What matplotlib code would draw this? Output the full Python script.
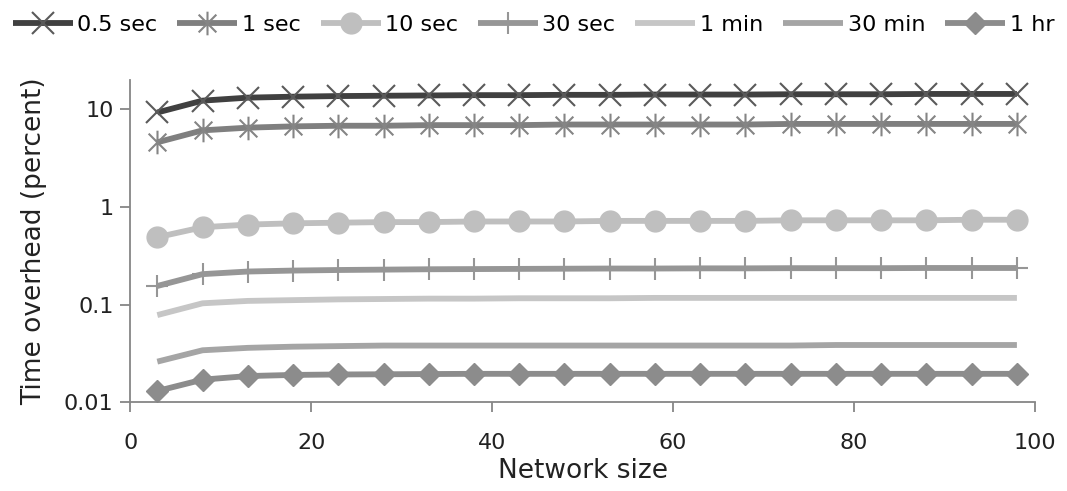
import matplotlib.pyplot as plt
from matplotlib.path import Path
import numpy as np

# network sizes sampled every 5 nodes
sizes = [3, 8, 13, 18, 23, 28, 33, 38, 43, 48, 53, 58, 63, 68, 73, 78, 83, 88, 93, 98]

labels = ['0.5 sec', '1 sec', '10 sec', '30 sec', '1 min', '30 min', '1 hr']

half_sec = [9.3, 12.3, 13.2, 13.5, 13.7, 13.8, 13.9, 14.0, 14.0, 14.1,
            14.1, 14.2, 14.2, 14.2, 14.3, 14.3, 14.3, 14.4, 14.4, 14.4]
one_sec = [4.6, 6.1, 6.5, 6.7, 6.8, 6.8, 6.9, 6.9, 6.9, 7.0,
           7.0, 7.0, 7.0, 7.0, 7.1, 7.1, 7.1, 7.1, 7.1, 7.1]
ten_sec = [0.49, 0.62, 0.66, 0.68, 0.69, 0.70, 0.70, 0.71, 0.71, 0.71,
           0.72, 0.72, 0.72, 0.72, 0.73, 0.73, 0.73, 0.73, 0.74, 0.74]
thirty_sec = [0.155, 0.205, 0.218, 0.223, 0.226, 0.228, 0.230, 0.231, 0.232, 0.233,
              0.234, 0.234, 0.235, 0.235, 0.236, 0.236, 0.236, 0.237, 0.237, 0.237]
one_min = [0.078, 0.103, 0.109, 0.111, 0.113, 0.114, 0.115, 0.115, 0.116, 0.116,
           0.116, 0.117, 0.117, 0.117, 0.117, 0.117, 0.117, 0.117, 0.117, 0.117]
thirty_min = [0.026, 0.034, 0.036, 0.037, 0.0375, 0.038, 0.038, 0.038, 0.038, 0.038,
              0.038, 0.038, 0.038, 0.038, 0.038, 0.0385, 0.0385, 0.0385, 0.0385, 0.0385]
one_hr = [0.013, 0.017, 0.0185, 0.019, 0.0192, 0.0193, 0.0194, 0.0195, 0.0195, 0.0195,
          0.0195, 0.0195, 0.0195, 0.0195, 0.0195, 0.0195, 0.0195, 0.0195, 0.0195, 0.0195]

# excel style star marker: a vertical stroke plus an x
M, L = Path.MOVETO, Path.LINETO
starPath = Path([(0, -1), (0, 1), (-0.75, -0.75), (0.75, 0.75), (-0.75, 0.75), (0.75, -0.75)],
                [M, L, M, L, M, L])

series = [half_sec, one_sec, ten_sec, thirty_sec, one_min, thirty_min, one_hr]
lineColors = ['#404040', '#7f7f7f', '#bfbfbf', '#969696', '#c6c6c6', '#a5a5a5', '#8c8c8c']
markers = ['x', starPath, 'o', '+', None, None, 'D']
markerSizes = [16, 17, 15, 16, 0, 0, 11]
markerEdge = ['#5a5a5a', '#858585', '#bfbfbf', '#969696', None, None, '#8c8c8c']
edgeWidths = [1.5, 1.5, 1.0, 1.5, 0, 0, 1.0]

plt.rcParams['font.family'] = ['DejaVu Sans']

fig = plt.figure(figsize=(10.67, 4.91), dpi=100)
ax = fig.add_axes([0.122, 0.181, 0.848, 0.656])

for i in range(len(series)):
    kw = dict(color=lineColors[i], linewidth=4.2, label=labels[i],
              solid_capstyle='butt')
    if markers[i] is not None:
        kw.update(marker=markers[i], markersize=markerSizes[i],
                  markeredgecolor=markerEdge[i], markerfacecolor=lineColors[i],
                  markeredgewidth=edgeWidths[i])
    ax.plot(sizes, series[i], **kw)

ax.set_yscale('log')
ax.set_ylim(0.01, 20)
ax.set_xlim(0, 100)
ax.set_yticks([0.01, 0.1, 1, 10])
ax.set_yticklabels(['0.01', '0.1', '1', '10'])
ax.minorticks_off()
ax.set_xticks([0, 20, 40, 60, 80, 100])

for s in ['top', 'right']:
    ax.spines[s].set_visible(False)
for s in ['left', 'bottom']:
    ax.spines[s].set_color('#868686')
    ax.spines[s].set_linewidth(1.3)
ax.tick_params(axis='both', colors='#868686', labelcolor='#222222',
               labelsize=16, length=7, width=1.3)
ax.tick_params(axis='y', pad=5)
ax.tick_params(axis='x', pad=15)

ax.set_xlabel('Network size', fontsize=19, color='#222222', labelpad=4)
ax.set_ylabel('Time overhead (percent)', fontsize=19, color='#222222', labelpad=12)

fig.legend(loc='upper center', bbox_to_anchor=(0.5, 1.01), ncol=7, frameon=False,
           fontsize=16, handlelength=2.7, columnspacing=0.9, handletextpad=0.2)

fig.savefig('out.png', dpi=100)
